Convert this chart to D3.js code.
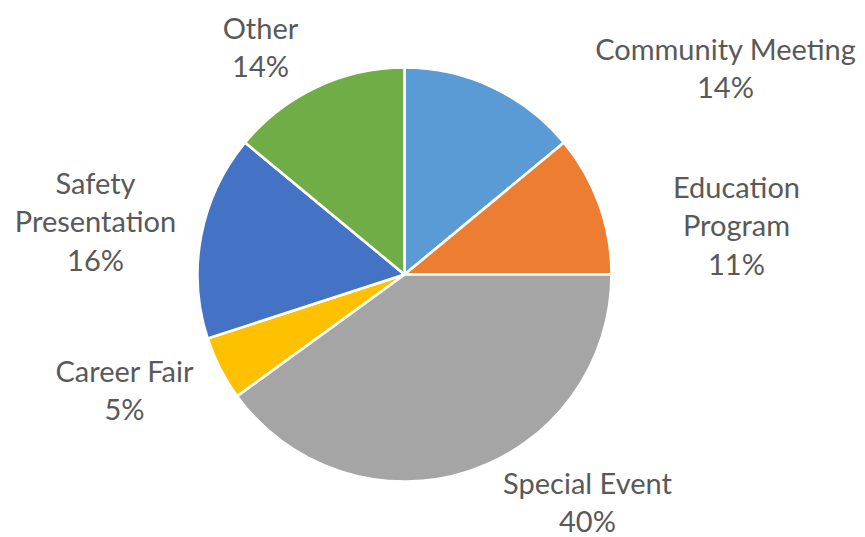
<!DOCTYPE html>
<html>
<head>
<meta charset="utf-8">
<script src="https://cdn.jsdelivr.net/npm/d3@7"></script>
<style>
  html, body { margin: 0; padding: 0; background: #fff; }
  svg { display: block; }
  text { font-family: Lato, "Open Sans", sans-serif; fill: #595959; }
</style>
</head>
<body>
<svg id="chart" width="865" height="537"></svg>
<script>
// Outreach activities by type (share of total, %)
const categories = ["Community Meeting", "Education Program", "Special Event", "Career Fair", "Safety Presentation", "Other"];
const values = [14, 11, 40, 5, 16, 14];
const labelLines = [["Community Meeting"], ["Education", "Program"], ["Special Event"], ["Career Fair"], ["Safety", "Presentation"], ["Other"]];
const colors = ["#5B9BD5", "#ED7D31", "#A5A5A5", "#FFC000", "#4472C4", "#70AD47"];

// Label anchors: centre x and first baseline of each label block, relative to the pie centre
const labelAnchors = [[321, -215], [332, -77], [183, 219], [-280, 107], [-309, -81], [-144, -236]];

const width = 865, height = 537;
const cx = 404.5, cy = 274.5, radius = 207;
const lineHeight = 38.5;

const svg = d3.select("#chart");
const g = svg.append("g").attr("transform", `translate(${cx},${cy})`);

const total = d3.sum(values);
const data = categories.map((name, i) => ({ name, value: values[i], lines: labelLines[i], color: colors[i], anchor: labelAnchors[i] }));

const pie = d3.pie().value(d => d.value).sort(null);
const arc = d3.arc().innerRadius(0).outerRadius(radius);

g.selectAll("path.slice")
  .data(pie(data))
  .join("path")
  .attr("class", "slice")
  .attr("d", arc)
  .attr("fill", d => d.data.color)
  .attr("stroke", "#fff")
  .attr("stroke-width", 2.6)
  .attr("stroke-linejoin", "round");

const pct = d3.format(".0%");

const labels = g.selectAll("text.label")
  .data(data)
  .join("text")
  .attr("class", "label")
  .attr("text-anchor", "middle")
  .attr("font-size", 29)
  .attr("x", d => d.anchor[0])
  .attr("y", d => d.anchor[1]);

labels.each(function(d) {
  const t = d3.select(this);
  const rows = d.lines.concat([pct(d.value / total)]);
  rows.forEach((row, j) => {
    t.append("tspan")
      .attr("x", d.anchor[0])
      .attr("y", d.anchor[1] + j * lineHeight)
      .text(row);
  });
});
</script>
</body>
</html>
